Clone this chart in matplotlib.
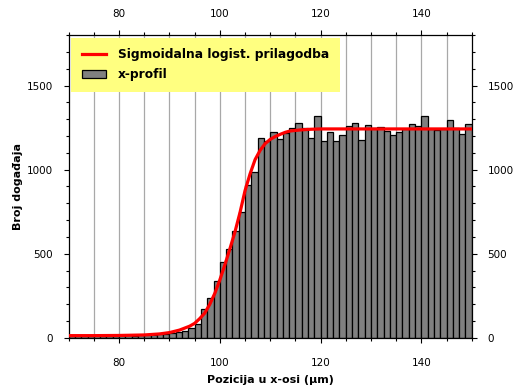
import numpy as np
import matplotlib
matplotlib.use("Agg")
from matplotlib import pyplot as plt
from matplotlib.ticker import MultipleLocator
import matplotlib.transforms as mtransforms

# histogram: 64 bins of 1.25 um between 70 and 150
bin_edges = np.linspace(70, 150, 65)
counts = [12, 14, 11, 13, 15, 12, 14, 13, 16, 15, 14, 17,
          18, 20, 22, 26, 30, 36, 42, 58, 83, 175, 240, 340,
          452, 530, 637, 748, 908,
          984, 1188, 1173, 1222, 1182, 1215, 1248, 1278, 1246, 1186, 1321,
          1173, 1224, 1169, 1204, 1262, 1278, 1179, 1264, 1248, 1254, 1232,
          1208, 1224, 1242, 1272, 1262,
          1317,
          1242, 1236, 1242, 1298, 1248, 1210, 1274]

# fitted sigmoid
fit_x = [70, 75, 80, 85, 88, 90, 92, 94, 95, 96, 97, 98, 99, 100, 101, 102,
         103, 104, 105, 106, 107, 108, 109, 110, 111, 112, 113, 114, 116,
         118, 120, 150]
fit_y = [14, 14, 15, 18, 24, 32, 47, 70, 87, 115, 148, 200, 265, 345, 435,
         530, 630, 745, 875, 975, 1060, 1115, 1155, 1180, 1197, 1210, 1222,
         1230, 1236, 1240, 1242, 1242]

fig = plt.figure(figsize=(5.15, 3.92), dpi=100)
ax = fig.add_axes([0.1334, 0.1378, 0.916 - 0.1334, 0.9107 - 0.1378])

bars = ax.hist(bin_edges[:-1], bins=bin_edges, weights=counts, color='#808080',
               edgecolor='black', linewidth=0.9, label='x-profil', zorder=2)[2]
line, = ax.plot(fit_x, fit_y, color='red', linewidth=2.3,
                label='Sigmoidalna logist. prilagodba', zorder=3)

ax.set_xlim(70, 150)
ax.set_ylim(0, 1800)
ax.xaxis.set_major_locator(MultipleLocator(20))
ax.xaxis.set_minor_locator(MultipleLocator(5))
ax.yaxis.set_major_locator(MultipleLocator(500))
ax.yaxis.set_minor_locator(MultipleLocator(100))

# vertical grid every 5 um, behind the bars
for gx in np.arange(75, 150, 5):
    ax.axvline(gx, color='#a8a8a8', linewidth=0.9, zorder=1)

ax.tick_params(which='both', direction='out', top=True, right=True,
               labeltop=True, labelright=True, labelsize=7.5, width=0.8,
               colors='black')
ax.tick_params(which='major', length=3.8)
ax.tick_params(which='minor', length=2.3)
ax.tick_params(axis='x', which='major', pad=10.5)
ax.tick_params(axis='y', which='major', pad=7.5)
for s in ax.spines.values():
    s.set_linewidth(0.9)

# top labels sit a little closer to the frame than the bottom ones
shift = mtransforms.ScaledTranslation(0, -3.5 / 100, fig.dpi_scale_trans)
for t in ax.xaxis.get_major_ticks():
    t.label2.set_transform(t.label2.get_transform() + shift)

ax.set_xlabel('Pozicija u x-osi (µm)', fontsize=8, fontweight='bold',
              labelpad=5)
ax.set_ylabel('Broj događaja', fontsize=8, fontweight='bold', labelpad=3)

leg = ax.legend([line, bars], ['Sigmoidalna logist. prilagodba', 'x-profil'],
                loc='upper left', bbox_to_anchor=(0.006, 0.99),
                borderaxespad=0, frameon=True,
                fancybox=False, framealpha=1, facecolor='#ffff80',
                edgecolor='none', handlelength=2.0, handletextpad=1.0,
                borderpad=0.85, labelspacing=0.55,
                prop={'weight': 'bold', 'size': 8.8})
leg.set_zorder(5)

fig.savefig('out.png', dpi=100)
